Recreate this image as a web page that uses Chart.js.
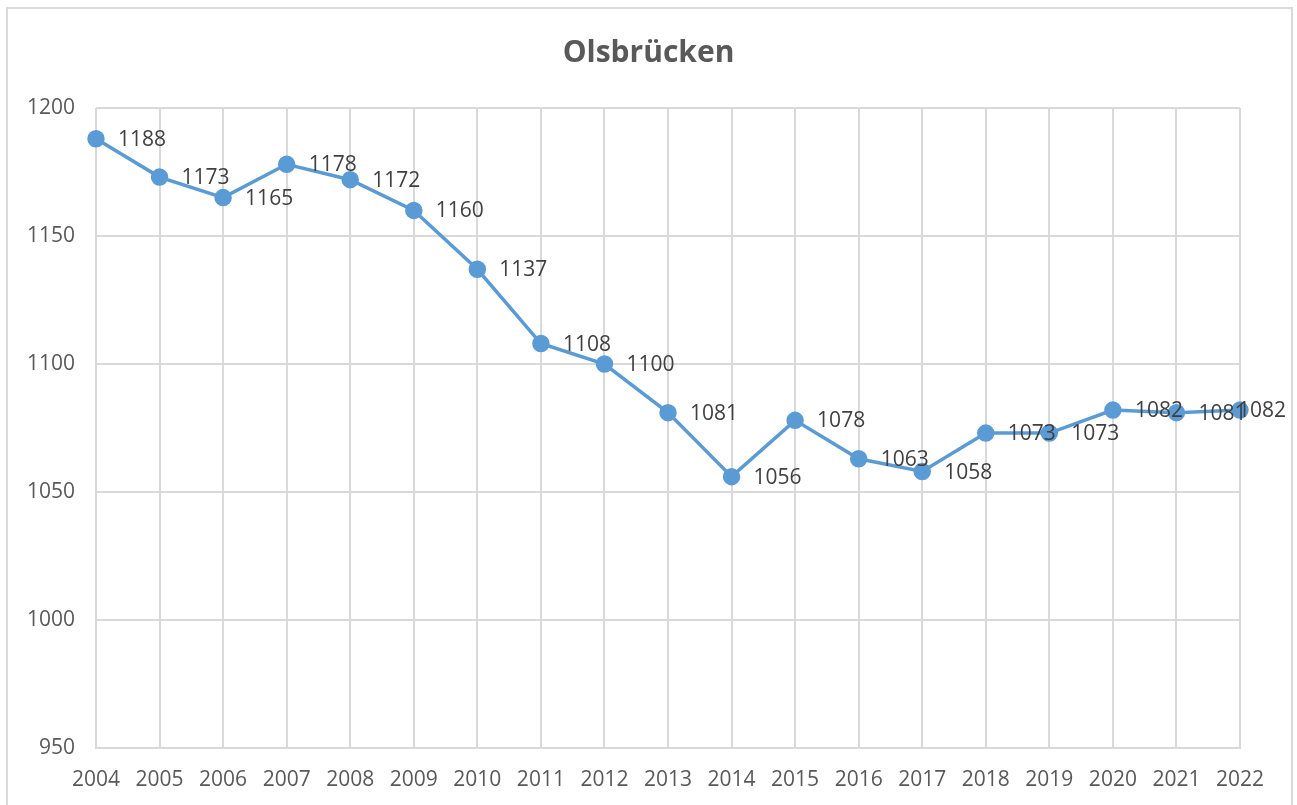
<!DOCTYPE html>
<html>
<head>
<meta charset="utf-8">
<script src="https://cdn.jsdelivr.net/npm/chart.js@4/dist/chart.umd.min.js"></script>
<style>
  html, body { margin: 0; padding: 0; background: #fff; }
  #wrap { width: 1297px; height: 805px; position: relative; }
</style>
</head>
<body>
<div id="wrap"><canvas id="chart"></canvas></div>
<script>
// Jahre (Kategorien) und Einwohnerzahlen
const years = ['2004', '2005', '2006', '2007', '2008', '2009', '2010', '2011', '2012', '2013',
  '2014', '2015', '2016', '2017', '2018', '2019', '2020', '2021', '2022'];
const population = [1188, 1173, 1165, 1178, 1172, 1160, 1137, 1108, 1100, 1081,
  1056, 1078, 1063, 1058, 1073, 1073, 1082, 1081, 1082];
const yTicks = [950, 1000, 1050, 1100, 1150, 1200];

const FONT = '"Open Sans", "Noto Sans", sans-serif';
const gridColor = '#d9d9d9';
const lineColor = '#5b9bd5';

// Rahmen um das ganze Diagramm
const borderPlugin = {
  id: 'outerBorder',
  beforeDraw(chart) {
    const ctx = chart.ctx;
    ctx.save();
    ctx.fillStyle = '#fff';
    ctx.fillRect(0, 0, chart.width, chart.height);
    ctx.strokeStyle = gridColor;
    ctx.lineWidth = 2;
    ctx.strokeRect(7, 8, 1285, 820);
    ctx.restore();
  }
};

// Werte rechts neben den Punkten (am rechten Rand nach innen geschoben)
const valueLabels = {
  id: 'valueLabels',
  afterDatasetsDraw(chart) {
    const ctx = chart.ctx;
    const meta = chart.getDatasetMeta(0);
    ctx.save();
    ctx.font = '21px ' + FONT;
    ctx.fillStyle = '#404040';
    ctx.textAlign = 'left';
    ctx.textBaseline = 'middle';
    meta.data.forEach((pt, i) => {
      const txt = String(population[i]);
      const w = ctx.measureText(txt).width;
      let x = pt.x + 22;
      if (x + w > 1286) x = 1286 - w;
      ctx.fillText(txt, x, pt.y + 1);
    });
    ctx.restore();
  }
};

new Chart(document.getElementById('chart'), {
  type: 'line',
  data: {
    labels: years,
    datasets: [{
      label: 'Olsbrücken',
      data: population,
      borderColor: lineColor,
      backgroundColor: lineColor,
      borderWidth: 3.5,
      pointRadius: 7,
      pointHoverRadius: 7,
      pointBackgroundColor: lineColor,
      pointBorderColor: lineColor,
      tension: 0
    }]
  },
  options: {
    responsive: true,
    maintainAspectRatio: false,
    animation: false,
    layout: {
      padding: 0
    },
    plugins: {
      legend: { display: false },
      tooltip: { enabled: false },
      title: {
        display: true,
        text: 'Olsbrücken',
        color: '#595959',
        font: { family: FONT, size: 30, weight: 'bold' },
        padding: { top: 35, bottom: 37 }
      }
    },
    scales: {
      x: {
        offset: false,
        grid: { color: gridColor, lineWidth: 2, drawTicks: false },
        border: { color: gridColor, width: 2 },
        ticks: {
          color: '#595959',
          font: { family: FONT, size: 21 },
          padding: 19,
          maxRotation: 0,
          autoSkip: false
        },
        afterFit(scale) { scale.height = 57; }
      },
      y: {
        min: 950,
        max: 1200,
        afterBuildTicks(scale) {
          scale.ticks = yTicks.map(v => ({ value: v }));
        },
        grid: { color: gridColor, lineWidth: 2, drawTicks: false },
        border: { display: false },
        ticks: {
          color: '#595959',
          font: { family: FONT, size: 21 },
          padding: 21,
          callback: v => String(v)
        },
        afterFit(scale) { scale.width = 96; }
      },
      // leere Achse rechts, hält den Rand neben dem Plotbereich frei
      yRight: {
        position: 'right',
        min: 950,
        max: 1200,
        grid: { display: false },
        border: { display: false },
        ticks: { display: false },
        afterFit(scale) { scale.width = 57; }
      }
    }
  },
  plugins: [borderPlugin, valueLabels]
});
</script>
</body>
</html>
